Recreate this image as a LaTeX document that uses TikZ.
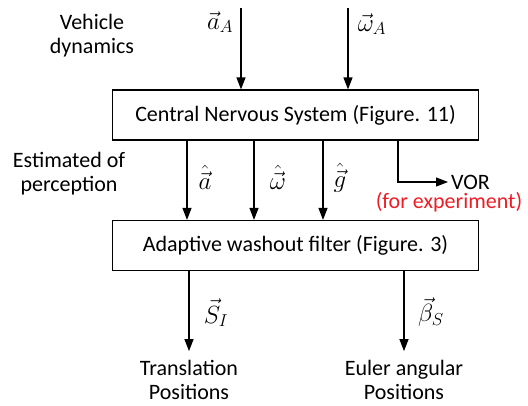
\documentclass[tikz,border=0pt]{standalone}
\usepackage{fontspec}
\setmainfont{Carlito}
\usepackage{tikz}
\usetikzlibrary{positioning, arrows.meta, calc}
\usepackage{xcolor}
\definecolor{notered}{HTML}{EE1C25}
\tikzset{
  base/.style={draw, line width=1.2pt, align=center, inner sep=0pt},
  blockbox/.style={base, minimum width=366pt, minimum height=50pt,
                   font=\fontsize{22}{24}\selectfont},
  arrow/.style={-{Triangle[length=12pt, width=9pt]}, line width=1.2pt},
  label/.style={align=center, font=\fontsize{22}{24}\selectfont, inner sep=0pt},
  sig/.style={font=\fontsize{25}{25}\selectfont, inner sep=0pt},
}

\begin{document}
\begin{tikzpicture}[x=1pt, y=-1pt]
\useasboundingbox (0,0) rectangle (528,405);

%% ====================  BLOCKS  ====================

\node[blockbox] (cns) at (295.5,115) {Central Nervous System (Figure. 11)};
\node[blockbox] (awf) at (295.5,245.5) {Adaptive washout filter (Figure. 3)};

%% ====================  INPUTS  ====================

\coordinate (ain) at (241,8);
\coordinate (win) at (348,8);

\node[label] (veh) at (92,36) {Vehicle\\dynamics};
\node[sig] (alab) at (220,22) {$\vec{a}_{A}$};
\node[sig] (wlab) at (372,24) {$\vec{\omega}_{A}$};

\draw[arrow] (ain) -- (ain |- cns.north);
\draw[arrow] (win) -- (win |- cns.north);

%% ====================  ESTIMATES  ====================

\node[label] (est) at (69,174) {Estimated of\\perception};

\coordinate (ahat) at (187,0);
\coordinate (what) at (254,0);
\coordinate (ghat) at (323,0);

\draw[arrow] (ahat |- cns.south) -- (ahat |- awf.north);
\draw[arrow] (what |- cns.south) -- (what |- awf.north);
\draw[arrow] (ghat |- cns.south) -- (ghat |- awf.north);

\node[sig] (alab2) at (205,177) {$\hat{\vec{a}}$};
\node[sig] (wlab2) at (278,177) {$\hat{\vec{\omega}}$};
\node[sig] (glab2) at (340,178) {$\hat{\vec{g}}$};

%% VOR branch
\coordinate (vorx) at (398,0);
\node[label, anchor=west] (vor) at (451,182) {VOR};
\node[label, text=notered] (vornote) at (449,202) {(for experiment)};

\draw[arrow] (vorx |- cns.south) |- ($(vor.west)+(-3,0)$);

%% ====================  OUTPUTS  ====================

\node[label] (trans) at (189,380) {Translation\\Positions};
\node[label] (euler) at (404,380) {Euler angular\\Positions};

\draw[arrow] (trans.north |- awf.south) -- ++(0,80);
\draw[arrow] (euler.north |- awf.south) -- ++(0,80);

\node[sig] (slab) at (216,313) {$\vec{S}_{I}$};
\node[sig] (blab) at (431,312) {$\vec{\beta}_{S}$};

\end{tikzpicture}
\end{document}
